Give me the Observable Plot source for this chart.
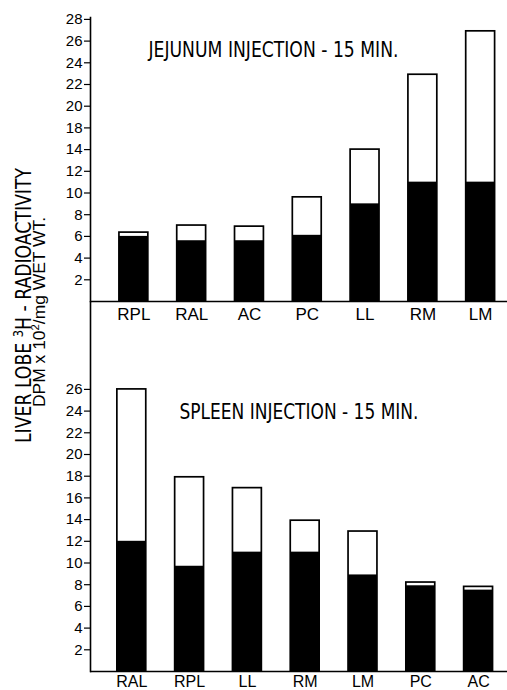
<!DOCTYPE html>
<html><head><meta charset="utf-8">
<script src="https://cdn.jsdelivr.net/npm/d3@7"></script>
<script src="https://cdn.jsdelivr.net/npm/@observablehq/plot@0.6"></script>
<style>
body{margin:0;background:#fff;}
#wrap{position:relative;width:507px;height:690px;overflow:hidden;background:#fff;}
#wrap > svg{display:block;}
</style></head><body><div id="wrap"></div>
<script>
const topTitle = "JEJUNUM INJECTION - 15 MIN.";
const bottomTitle = "SPLEEN INJECTION - 15 MIN.";
const topLobes = ["RPL","RAL","AC","PC","LL","RM","LM"];
const topTotal = [6.35, 7.0, 6.9, 9.6, 14.0, 22.9, 26.9];
const topBlack = [6.0, 5.6, 5.6, 6.1, 9.0, 11.0, 11.0];
const bottomLobes = ["RAL","RPL","LL","RM","LM","PC","AC"];
const bottomTotal = [26.0, 17.9, 16.9, 13.9, 12.9, 8.2, 7.8];
const bottomBlack = [12.0, 9.7, 11.0, 11.0, 8.9, 7.9, 7.5];
// printed tick labels (the upper panel's axis skips 16 in the original)
const topTickLabels = [2,4,6,8,10,12,14,18,20,22,24,26,28];
const bottomTickLabels = [2,4,6,8,10,12,14,16,18,20,22,24,26];
const yLabelLine1 = ["LIVER LOBE ", "3", "H - RADIOACTIVITY"];
const yLabelLine2 = ["DPM x 10", "2", "/mg WET WT."];

const narrow = "'Liberation Sans Narrow','DejaVu Sans Condensed','Liberation Sans',sans-serif";
const sans = "'Liberation Sans',Arial,sans-serif";

// map printed axis values to evenly spaced tick positions
const topAxis = d3.scaleLinear().domain([0, ...topTickLabels]).range([0, ...topTickLabels.map((_, i) => 2 * (i + 1))]);
const bottomAxis = v => v;

function panel(o) {
  const rows = o.lobes.map((lobe, i) => ({lobe, total: o.total[i], black: o.black[i]}));
  const tickPos = o.tickLabels.map(o.toAxis);
  const labelOf = new Map(tickPos.map((p, i) => [p, String(o.tickLabels[i])]));
  const chart = Plot.plot({
    width: 507, height: o.height,
    marginLeft: 90, marginRight: 0, marginTop: o.marginTop, marginBottom: o.marginBottom,
    style: {background: "none", fontFamily: sans, color: "black"},
    x: {domain: o.lobes, paddingInner: 0.5, paddingOuter: 0.3575, align: o.align, round: false},
    y: {domain: [0, o.yMax]},
    marks: [
      Plot.barY(rows, {x: "lobe", y: d => o.toAxis(d.total), fill: "white", stroke: "black", strokeWidth: 1.7}),
      Plot.barY(rows, {x: "lobe", y: d => o.toAxis(d.black), fill: "black"}),
      Plot.ruleY([0], {stroke: "black", strokeWidth: 1.6}),
      Plot.frame({anchor: "left", stroke: "black", strokeWidth: 1.6}),
      Plot.axisY(tickPos, {tickFormat: d => labelOf.get(d), tickSize: 6, tickPadding: 2, fontSize: 15, label: null, stroke: "black", strokeWidth: 1.2}),
      Plot.axisX({tickSize: 0, tickPadding: o.xPad, fontSize: o.xFont, label: null}),
      Plot.text([o.title], {text: d => d, frameAnchor: "top-left", dx: o.titleDx, dy: o.titleDy, textAnchor: "start", lineAnchor: "middle", fontSize: 21, fontFamily: narrow, fill: "black"})
    ]
  });
  d3.select(chart).selectAll('g[aria-label="text"] text')
    .attr("textLength", o.titleLength).attr("lengthAdjust", "spacingAndGlyphs");
  return chart;
}

const wrap = document.getElementById("wrap");
const topChart = panel({lobes: topLobes, total: topTotal, black: topBlack, tickLabels: topTickLabels, toAxis: topAxis,
  title: topTitle, titleLength: 250, height: 330, marginTop: 17, marginBottom: 29, yMax: 284 / 10.85, align: 0.70,
  titleDx: 58, titleDy: 32.5, xPad: 6, xFont: 17});
const bottomChart = panel({lobes: bottomLobes, total: bottomTotal, black: bottomBlack, tickLabels: bottomTickLabels, toAxis: bottomAxis,
  title: bottomTitle, titleLength: 239, height: 389, marginTop: 0, marginBottom: 19, yMax: 370 / 10.85, align: 0.65,
  titleDx: 89, titleDy: 110.7, xPad: 4, xFont: 16});
bottomChart.style.marginTop = "-29px";
wrap.appendChild(topChart);
wrap.appendChild(bottomChart);

// rotated y-axis title spanning both panels
const svg = d3.select(wrap).append("svg")
  .attr("width", 90).attr("height", 690)
  .style("position", "absolute").style("left", "0px").style("top", "0px");
function addLine(parts, x, y, size, family, length) {
  const t = svg.append("text")
    .attr("transform", `translate(${x},${y}) rotate(-90)`)
    .attr("text-anchor", "middle")
    .attr("textLength", length).attr("lengthAdjust", "spacingAndGlyphs")
    .style("font-family", family).style("font-size", size + "px").attr("fill", "black");
  t.append("tspan").text(parts[0]);
  t.append("tspan").attr("baseline-shift", "super").style("font-size", Math.round(size * 0.65) + "px").text(parts[1]);
  t.append("tspan").text(parts[2]);
}
addLine(yLabelLine1, 31, 305.5, 21, narrow, 275);
addLine(yLabelLine2, 45, 312, 17, sans, 190);
</script></body></html>
